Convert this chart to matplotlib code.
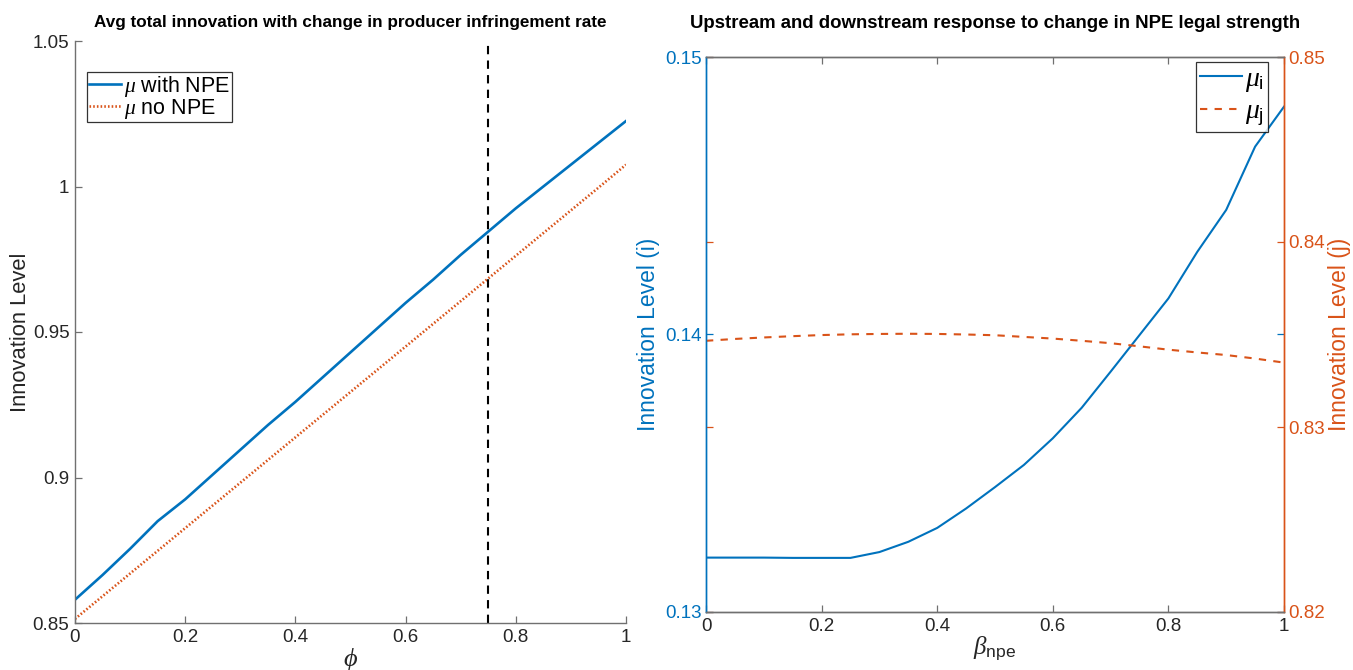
import matplotlib
matplotlib.use("Agg")
import matplotlib.pyplot as plt
import numpy as np

plt.rcParams['font.family'] = ['Liberation Sans', 'DejaVu Sans']
plt.rcParams['mathtext.fontset'] = 'custom'
plt.rcParams['mathtext.it'] = 'Liberation Serif:italic'
plt.rcParams['mathtext.rm'] = 'Liberation Sans'

# ---- data: left panel ----
phi = [0.0, 0.05, 0.1, 0.15, 0.2, 0.25, 0.3, 0.35, 0.4, 0.45, 0.5,
       0.55, 0.6, 0.65, 0.7, 0.75, 0.8, 0.85, 0.9, 0.95, 1.0]
mu_with_npe = [0.858, 0.8665, 0.8755, 0.885, 0.8925, 0.901, 0.9095, 0.918,
               0.926, 0.9345, 0.943, 0.9515, 0.960, 0.968, 0.9765, 0.9845,
               0.9925, 1.0, 1.0075, 1.015, 1.0225]
mu_no_npe = [0.8514, 0.8592, 0.867, 0.8748, 0.8826, 0.8904, 0.8982, 0.906,
             0.9138, 0.9216, 0.9294, 0.9372, 0.945, 0.9528, 0.9606, 0.9684,
             0.9762, 0.984, 0.9918, 0.9996, 1.0075]
phi_marker = 0.75

# ---- data: right panel ----
beta = [0.0, 0.05, 0.1, 0.15, 0.2, 0.25, 0.3, 0.35, 0.4, 0.45, 0.5,
        0.55, 0.6, 0.65, 0.7, 0.75, 0.8, 0.85, 0.9, 0.95, 1.0]
mu_i = [0.13196, 0.13196, 0.13196, 0.13195, 0.13195, 0.13195, 0.13216,
        0.13253, 0.13303, 0.13373, 0.13450, 0.13530, 0.13626, 0.13736,
        0.13866, 0.13998, 0.14130, 0.14298, 0.14449, 0.14677, 0.14821]
mu_j = [0.83466, 0.83476, 0.83484, 0.83491, 0.83497, 0.83501, 0.83503,
        0.83504, 0.83503, 0.83500, 0.83496, 0.83487, 0.83478, 0.83466,
        0.83453, 0.83436, 0.83418, 0.83403, 0.83389, 0.83370, 0.83348]

left_xticks = [0, 0.2, 0.4, 0.6, 0.8, 1]
left_xticklabels = ['0', '0.2', '0.4', '0.6', '0.8', '1']
left_yticks = [0.85, 0.9, 0.95, 1.0, 1.05]
left_yticklabels = ['0.85', '0.9', '0.95', '1', '1.05']
right_yticks_i = [0.13, 0.14, 0.15]
right_yticklabels_i = ['0.13', '0.14', '0.15']
right_yticks_j = [0.82, 0.83, 0.84, 0.85]
right_yticklabels_j = ['0.82', '0.83', '0.84', '0.85']

BLUE = '#0072BD'
ORANGE = '#D95319'
AXC = '#707070'
TXT = '#262626'

fig = plt.figure(figsize=(13.53, 6.70), dpi=100)
W, H = 1353, 670

# ---------------- left panel ----------------
ax1 = fig.add_axes([75 / W, 1 - 623 / H, (626 - 75) / W, (623 - 41) / H])
ax1.plot(phi, mu_with_npe, color=BLUE, lw=1.9, label=r'$\mu$ with NPE')
ax1.plot(phi, mu_no_npe, color=ORANGE, lw=1.9, ls=(0, (0.6, 0.8)),
         label=r'$\mu$ no NPE')
ax1.axvline(phi_marker, color='black', lw=1.5, ls=(0, (4, 3)))
ax1.set_xlim(0, 1)
ax1.set_ylim(0.85, 1.05)
ax1.set_xticks(left_xticks)
ax1.set_xticklabels(left_xticklabels)
ax1.set_yticks(left_yticks)
ax1.set_yticklabels(left_yticklabels)
for s in ['top', 'right']:
    ax1.spines[s].set_visible(False)
for s in ['left', 'bottom']:
    ax1.spines[s].set_color(AXC)
    ax1.spines[s].set_linewidth(1.0)
ax1.tick_params(direction='in', length=5, width=0.9, color=AXC,
                labelsize=13.5, labelcolor=TXT, pad=4)
ax1.set_xlabel(r'$\phi$', fontsize=19, color=TXT, labelpad=0)
ax1.set_ylabel('Innovation Level', fontsize=15.8, color=TXT, labelpad=1)
ax1.set_title('Avg total innovation with change in producer infringement rate',
              fontsize=12.3, fontweight='bold', color='black', pad=10)
leg1 = ax1.legend(loc='upper left', bbox_to_anchor=(12 / 551, 1 - 31 / 582),
                  fontsize=15.5, frameon=True, fancybox=False, borderpad=0.08,
                  labelspacing=-0.1, handlelength=1.5, handletextpad=0.15,
                  borderaxespad=0)
leg1.get_frame().set_edgecolor('black')
leg1.get_frame().set_linewidth(0.9)

# ---------------- right panel ----------------
ax2 = fig.add_axes([706 / W, 1 - 612 / H, (1284 - 706) / W, (612 - 57) / H])
ax3 = ax2.twinx()
l1, = ax2.plot(beta, mu_i, color=BLUE, lw=1.5, label=r'$\mu_{\mathrm{i}}$')
l2, = ax3.plot(beta, mu_j, color=ORANGE, lw=1.5, ls=(0, (3.5, 3.5)),
               label=r'$\mu_{\mathrm{j}}$')
ax2.set_xlim(0, 1)
ax2.set_ylim(0.13, 0.15)
ax3.set_ylim(0.82, 0.85)
ax2.set_xticks(left_xticks)
ax2.set_xticklabels(left_xticklabels)
ax2.set_yticks(right_yticks_i)
ax2.set_yticklabels(right_yticklabels_i)
ax3.set_yticks(right_yticks_j)
ax3.set_yticklabels(right_yticklabels_j)

for a in (ax2, ax3):
    a.spines['top'].set_color(AXC)
    a.spines['bottom'].set_color(AXC)
    a.spines['left'].set_color(BLUE)
    a.spines['right'].set_color(ORANGE)
    for s in a.spines.values():
        s.set_linewidth(1.0)

ax2.tick_params(axis='x', direction='in', length=5, width=0.9, color=AXC,
                top=True, labelsize=13.5, labelcolor=TXT, pad=4)
ax2.tick_params(axis='y', direction='in', length=5, width=0.9, color=BLUE,
                left=True, right=True, labelleft=True, labelright=False,
                labelsize=13.5, labelcolor=BLUE, pad=3)
ax3.tick_params(axis='y', direction='in', length=5, width=0.9, color=ORANGE,
                left=True, right=True, labelleft=False, labelright=True,
                labelsize=13.5, labelcolor=ORANGE, pad=3)

ax2.set_xlabel(r'$\beta_{\mathrm{npe}}$', fontsize=18, color=TXT, labelpad=0)
ax2.set_ylabel('Innovation Level (i)', fontsize=16.5, color=BLUE, labelpad=4)
ax3.set_ylabel('Innovation Level (j)', fontsize=16.5, color=ORANGE, labelpad=2)
ax2.set_title('Upstream and downstream response to change in NPE legal strength',
              fontsize=13.4, fontweight='bold', color='black', pad=21)
leg2 = ax3.legend(handles=[l1, l2], loc='upper right',
                  bbox_to_anchor=(1 - 16 / 578, 1 - 5 / 555),
                  fontsize=20, frameon=True, fancybox=False, borderpad=0.15,
                  labelspacing=0.15, handlelength=1.5, handletextpad=0.1,
                  borderaxespad=0)
leg2.get_frame().set_edgecolor('black')
leg2.get_frame().set_linewidth(0.9)

fig.savefig('out.png', dpi=100)
